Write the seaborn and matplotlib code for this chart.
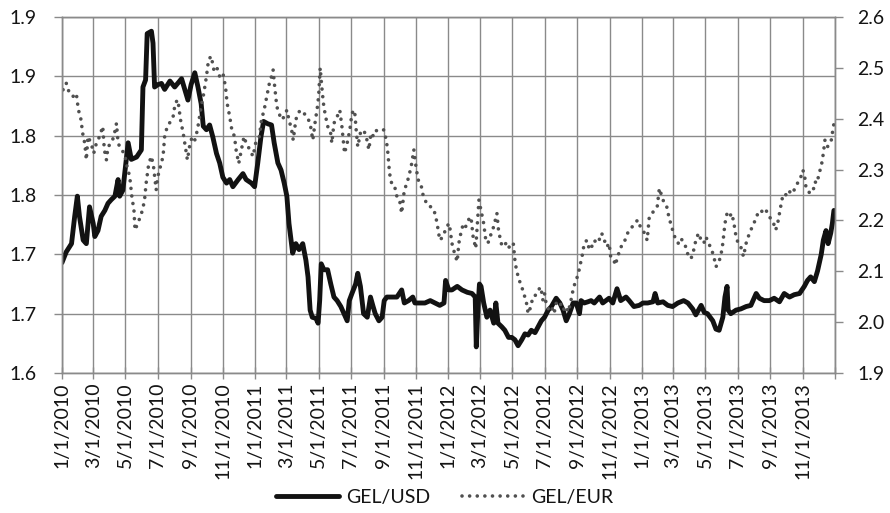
import matplotlib
matplotlib.use("Agg")
import matplotlib.pyplot as plt
import seaborn as sns
import pandas as pd
from matplotlib.lines import Line2D

# ---------------- data ----------------
usd_dates = [
    '2010-01-01', '2010-01-09', '2010-01-19', '2010-01-25', '2010-01-30', '2010-02-03', '2010-02-10',
    '2010-02-16', '2010-02-22', '2010-03-01', '2010-03-04', '2010-03-10', '2010-03-16', '2010-03-23',
    '2010-03-29', '2010-04-04', '2010-04-11', '2010-04-17', '2010-04-20', '2010-04-26', '2010-05-01',
    '2010-05-06', '2010-05-12', '2010-05-22', '2010-05-31', '2010-06-03', '2010-06-08', '2010-06-11',
    '2010-06-19', '2010-06-22', '2010-06-25', '2010-07-01', '2010-07-08', '2010-07-14', '2010-07-24',
    '2010-08-02', '2010-08-15', '2010-08-21', '2010-08-27', '2010-09-02', '2010-09-09', '2010-09-15',
    '2010-09-21', '2010-09-25', '2010-10-01', '2010-10-07', '2010-10-13', '2010-10-20', '2010-10-26',
    '2010-11-01', '2010-11-08', '2010-11-14', '2010-11-20', '2010-11-30', '2010-12-09', '2010-12-15',
    '2010-12-25',
    '2010-12-31', '2011-01-06', '2011-01-12', '2011-01-17', '2011-01-25', '2011-02-01', '2011-02-06',
    '2011-02-13', '2011-02-19', '2011-02-25', '2011-03-02', '2011-03-06', '2011-03-10', '2011-03-13',
    '2011-03-19', '2011-03-25', '2011-04-01', '2011-04-07', '2011-04-11', '2011-04-15', '2011-04-19',
    '2011-04-26', '2011-04-30', '2011-05-03', '2011-05-06', '2011-05-11', '2011-05-18', '2011-05-24',
    '2011-05-30', '2011-06-05', '2011-06-12', '2011-06-18', '2011-06-24', '2011-06-28', '2011-07-03',
    '2011-07-10', '2011-07-14', '2011-07-19', '2011-07-25', '2011-08-01', '2011-08-07', '2011-08-12',
    '2011-08-16', '2011-08-23', '2011-08-29', '2011-09-02', '2011-09-07', '2011-09-17', '2011-09-26',
    '2011-10-05', '2011-10-10', '2011-10-18', '2011-10-26', '2011-10-30', '2011-11-09', '2011-11-18',
    '2011-11-28', '2011-12-07', '2011-12-16', '2011-12-24', '2011-12-27',
    '2012-01-02', '2012-01-08', '2012-01-18', '2012-01-27', '2012-02-06', '2012-02-15', '2012-02-21',
    '2012-02-23', '2012-02-26', '2012-02-29', '2012-03-03', '2012-03-08', '2012-03-14', '2012-03-20',
    '2012-03-27', '2012-03-31', '2012-04-04', '2012-04-11', '2012-04-17', '2012-04-24', '2012-04-30',
    '2012-05-06', '2012-05-12', '2012-05-19', '2012-05-25', '2012-05-31', '2012-06-06', '2012-06-13',
    '2012-06-19', '2012-06-25', '2012-07-01', '2012-07-08', '2012-07-14', '2012-07-23', '2012-07-30',
    '2012-08-05', '2012-08-11', '2012-08-17', '2012-08-24', '2012-08-30', '2012-09-05', '2012-09-08',
    '2012-09-14', '2012-09-21', '2012-09-27', '2012-10-03', '2012-10-13', '2012-10-19', '2012-10-25',
    '2012-10-31', '2012-11-07', '2012-11-15', '2012-11-22', '2012-12-02', '2012-12-08', '2012-12-17',
    '2012-12-27',
    '2013-01-03', '2013-01-12', '2013-01-22', '2013-01-26', '2013-01-31', '2013-02-10', '2013-02-19',
    '2013-02-28', '2013-03-10', '2013-03-21', '2013-03-29', '2013-04-07', '2013-04-13', '2013-04-23',
    '2013-04-29', '2013-05-05', '2013-05-15', '2013-05-21', '2013-05-27', '2013-06-03', '2013-06-07',
    '2013-06-11', '2013-06-13', '2013-06-18', '2013-06-28', '2013-07-07', '2013-07-17', '2013-07-26',
    '2013-08-05', '2013-08-11', '2013-08-20', '2013-08-30', '2013-09-08', '2013-09-18', '2013-09-27',
    '2013-10-07', '2013-10-16', '2013-10-26', '2013-11-04', '2013-11-10', '2013-11-16', '2013-11-23',
    '2013-11-29', '2013-12-06', '2013-12-10', '2013-12-15', '2013-12-19', '2013-12-24', '2013-12-27',
    '2013-12-30',
]
usd_values = [
    1.693, 1.702, 1.709, 1.732, 1.749, 1.732, 1.712,
    1.709, 1.740, 1.726, 1.715, 1.720, 1.732, 1.737,
    1.743, 1.746, 1.749, 1.763, 1.749, 1.754, 1.774,
    1.794, 1.780, 1.782, 1.788, 1.841, 1.847, 1.886,
    1.888, 1.878, 1.841, 1.843, 1.844, 1.839, 1.846,
    1.841, 1.848, 1.839, 1.830, 1.843, 1.853, 1.841,
    1.827, 1.808, 1.805, 1.809, 1.799, 1.785, 1.777,
    1.765, 1.760, 1.763, 1.757, 1.763, 1.768, 1.763,
    1.760,
    1.757, 1.777, 1.799, 1.812, 1.810, 1.809, 1.794,
    1.777, 1.771, 1.760, 1.749, 1.726, 1.712, 1.701,
    1.709, 1.704, 1.709, 1.695, 1.681, 1.653, 1.647,
    1.646, 1.642, 1.661, 1.692, 1.687, 1.687, 1.675,
    1.664, 1.661, 1.656, 1.650, 1.644, 1.661, 1.667,
    1.675, 1.684, 1.673, 1.650, 1.647, 1.664, 1.656,
    1.650, 1.644, 1.647, 1.661, 1.664, 1.664, 1.664,
    1.670, 1.659, 1.661, 1.664, 1.659, 1.659, 1.659,
    1.661, 1.659, 1.657, 1.659, 1.678,
    1.670, 1.670, 1.673, 1.670, 1.668, 1.667, 1.664,
    1.622, 1.653, 1.675, 1.673, 1.659, 1.647, 1.653,
    1.642, 1.659, 1.642, 1.639, 1.636, 1.630, 1.630,
    1.628, 1.623, 1.628, 1.633, 1.632, 1.636, 1.634,
    1.639, 1.644, 1.647, 1.653, 1.656, 1.663, 1.659,
    1.653, 1.644, 1.650, 1.659, 1.659, 1.650, 1.661,
    1.659, 1.660, 1.661, 1.659, 1.664, 1.659, 1.661,
    1.663, 1.659, 1.671, 1.661, 1.664, 1.661, 1.656,
    1.657,
    1.659, 1.659, 1.660, 1.667, 1.659, 1.660, 1.657,
    1.656, 1.659, 1.661, 1.659, 1.654, 1.649, 1.657,
    1.651, 1.650, 1.644, 1.637, 1.636, 1.647, 1.664,
    1.673, 1.653, 1.650, 1.653, 1.654, 1.656, 1.657,
    1.667, 1.663, 1.661, 1.661, 1.663, 1.660, 1.667,
    1.664, 1.666, 1.667, 1.673, 1.678, 1.681, 1.677,
    1.686, 1.700, 1.712, 1.720, 1.709, 1.718, 1.726,
    1.737,
]

eur_dates = [
    '2010-01-03', '2010-01-09', '2010-01-15', '2010-01-22', '2010-01-28', '2010-02-01', '2010-02-05',
    '2010-02-10', '2010-02-13', '2010-02-16', '2010-02-19', '2010-02-25', '2010-03-02', '2010-03-07',
    '2010-03-13', '2010-03-19', '2010-03-22', '2010-03-26', '2010-03-29', '2010-04-04', '2010-04-09',
    '2010-04-14', '2010-04-17', '2010-04-23', '2010-04-29', '2010-05-04', '2010-05-09', '2010-05-13',
    '2010-05-17', '2010-05-19', '2010-05-24', '2010-05-29', '2010-06-02', '2010-06-06', '2010-06-09',
    '2010-06-14', '2010-06-19', '2010-06-23', '2010-06-28', '2010-07-01', '2010-07-06', '2010-07-11',
    '2010-07-14', '2010-07-19', '2010-07-23', '2010-07-30', '2010-08-03', '2010-08-08', '2010-08-13',
    '2010-08-18', '2010-08-22', '2010-08-26', '2010-08-30', '2010-09-04', '2010-09-09', '2010-09-14',
    '2010-09-18', '2010-09-21', '2010-09-26', '2010-10-01', '2010-10-05', '2010-10-10', '2010-10-15',
    '2010-10-20', '2010-10-26', '2010-11-01', '2010-11-06', '2010-11-09', '2010-11-14', '2010-11-18',
    '2010-11-23', '2010-11-26', '2010-12-01', '2010-12-06', '2010-12-11', '2010-12-15', '2010-12-22',
    '2010-12-28',
    '2011-01-02', '2011-01-09', '2011-01-13', '2011-01-18', '2011-01-23', '2011-01-28', '2011-02-01',
    '2011-02-04', '2011-02-07', '2011-02-11', '2011-02-15', '2011-02-20', '2011-02-25', '2011-03-02',
    '2011-03-06', '2011-03-11', '2011-03-14', '2011-03-19', '2011-03-23', '2011-03-28', '2011-04-03',
    '2011-04-09', '2011-04-15', '2011-04-20', '2011-04-25', '2011-04-28', '2011-05-01', '2011-05-04',
    '2011-05-07', '2011-05-10', '2011-05-13', '2011-05-18', '2011-05-23', '2011-05-26', '2011-05-30',
    '2011-06-05', '2011-06-10', '2011-06-14', '2011-06-19', '2011-06-24', '2011-06-29', '2011-07-03',
    '2011-07-08', '2011-07-11', '2011-07-14', '2011-07-19', '2011-07-25', '2011-07-30', '2011-08-04',
    '2011-08-08', '2011-08-13', '2011-08-19', '2011-08-26', '2011-09-01', '2011-09-06', '2011-09-09',
    '2011-09-12', '2011-09-16', '2011-09-21', '2011-09-26', '2011-10-01', '2011-10-05', '2011-10-10',
    '2011-10-15', '2011-10-20', '2011-10-24', '2011-10-28', '2011-11-01', '2011-11-05', '2011-11-10',
    '2011-11-15', '2011-11-21', '2011-11-26', '2011-11-30', '2011-12-07', '2011-12-11', '2011-12-16',
    '2011-12-22', '2011-12-29',
    '2012-01-03', '2012-01-08', '2012-01-13', '2012-01-18', '2012-01-21', '2012-01-26', '2012-01-30',
    '2012-02-03', '2012-02-08', '2012-02-13', '2012-02-17', '2012-02-22', '2012-02-25', '2012-02-28',
    '2012-03-03', '2012-03-08', '2012-03-12', '2012-03-16', '2012-03-20', '2012-03-25', '2012-03-30',
    '2012-04-02', '2012-04-05', '2012-04-10', '2012-04-14', '2012-04-19', '2012-04-24', '2012-04-28',
    '2012-05-03', '2012-05-06', '2012-05-09', '2012-05-14', '2012-05-19', '2012-05-23', '2012-05-28',
    '2012-05-31', '2012-06-05', '2012-06-09', '2012-06-14', '2012-06-19', '2012-06-24', '2012-06-28',
    '2012-07-01', '2012-07-04', '2012-07-09', '2012-07-14', '2012-07-19', '2012-07-23', '2012-07-28',
    '2012-08-02', '2012-08-07', '2012-08-11', '2012-08-15', '2012-08-20', '2012-08-25', '2012-08-30',
    '2012-09-03', '2012-09-07', '2012-09-11', '2012-09-14', '2012-09-19', '2012-09-24', '2012-09-28',
    '2012-10-03', '2012-10-08', '2012-10-12', '2012-10-17', '2012-10-22', '2012-10-27', '2012-10-31',
    '2012-11-03', '2012-11-08', '2012-11-12', '2012-11-16', '2012-11-21', '2012-11-25', '2012-11-30',
    '2012-12-05', '2012-12-10', '2012-12-14', '2012-12-19', '2012-12-24', '2012-12-29',
    '2013-01-06', '2013-01-11', '2013-01-15', '2013-01-20', '2013-01-25', '2013-01-30', '2013-02-03',
    '2013-02-07', '2013-02-12', '2013-02-17', '2013-02-21', '2013-02-26', '2013-03-02', '2013-03-06',
    '2013-03-11', '2013-03-16', '2013-03-21', '2013-03-25', '2013-03-30', '2013-04-04', '2013-04-09',
    '2013-04-13', '2013-04-18', '2013-04-23', '2013-04-28', '2013-05-02', '2013-05-07', '2013-05-12',
    '2013-05-17', '2013-05-21', '2013-05-25', '2013-05-30', '2013-06-03', '2013-06-07', '2013-06-11',
    '2013-06-15', '2013-06-20', '2013-06-24', '2013-06-28', '2013-07-02', '2013-07-07', '2013-07-12',
    '2013-07-17', '2013-07-21', '2013-07-26', '2013-07-31', '2013-08-04', '2013-08-09', '2013-08-14',
    '2013-08-19', '2013-08-23', '2013-08-28', '2013-09-02', '2013-09-07', '2013-09-11', '2013-09-16',
    '2013-09-19', '2013-09-24', '2013-09-28', '2013-10-03', '2013-10-08', '2013-10-13', '2013-10-17',
    '2013-10-22', '2013-10-27', '2013-11-01', '2013-11-04', '2013-11-07', '2013-11-11', '2013-11-16',
    '2013-11-21', '2013-11-24', '2013-11-28', '2013-12-02', '2013-12-06', '2013-12-10', '2013-12-13',
    '2013-12-18', '2013-12-22', '2013-12-25', '2013-12-29', '2013-12-31',
]
eur_values = [
    2.457, 2.470, 2.450, 2.444, 2.450, 2.417, 2.404,
    2.365, 2.352, 2.319, 2.365, 2.352, 2.332, 2.352,
    2.365, 2.385, 2.339, 2.319, 2.345, 2.352, 2.365,
    2.391, 2.352, 2.339, 2.332, 2.306, 2.286, 2.247,
    2.220, 2.181, 2.194, 2.207, 2.220, 2.240, 2.273,
    2.312, 2.326, 2.306, 2.260, 2.286, 2.306, 2.326,
    2.365, 2.385, 2.391, 2.404, 2.431, 2.437, 2.398,
    2.372, 2.345, 2.319, 2.345, 2.365, 2.358, 2.378,
    2.404, 2.424, 2.450, 2.483, 2.516, 2.523, 2.496,
    2.503, 2.483, 2.490, 2.463, 2.431, 2.404, 2.378,
    2.365, 2.339, 2.312, 2.339, 2.365, 2.352, 2.339,
    2.326,
    2.352, 2.365, 2.398, 2.417, 2.444, 2.470, 2.483,
    2.496, 2.463, 2.424, 2.411, 2.398, 2.404, 2.417,
    2.398, 2.378, 2.358, 2.398, 2.411, 2.417, 2.411,
    2.404, 2.391, 2.358, 2.398, 2.417, 2.444, 2.500,
    2.463, 2.431, 2.411, 2.385, 2.378, 2.352, 2.391,
    2.404, 2.417, 2.385, 2.332, 2.352, 2.378, 2.411,
    2.417, 2.378, 2.345, 2.372, 2.378, 2.365, 2.339,
    2.372, 2.365, 2.378, 2.378, 2.378, 2.358, 2.332,
    2.293, 2.273, 2.270, 2.247, 2.240, 2.214, 2.260,
    2.273, 2.293, 2.312, 2.339, 2.306, 2.280, 2.273,
    2.247, 2.234, 2.227, 2.227, 2.214, 2.194, 2.161,
    2.168, 2.188,
    2.194, 2.155, 2.135, 2.119, 2.155, 2.181, 2.194,
    2.188, 2.201, 2.207, 2.168, 2.145, 2.194, 2.240,
    2.220, 2.194, 2.161, 2.155, 2.168, 2.181, 2.201,
    2.214, 2.181, 2.155, 2.148, 2.155, 2.145, 2.155,
    2.155, 2.122, 2.102, 2.083, 2.069, 2.056, 2.037,
    2.017, 2.030, 2.050, 2.053, 2.063, 2.069, 2.043,
    2.056, 2.037, 2.024, 2.030, 2.017, 2.037, 2.030,
    2.037, 2.024, 2.030, 2.020, 2.043, 2.069, 2.083,
    2.096, 2.115, 2.135, 2.155, 2.161, 2.142, 2.148,
    2.161, 2.155, 2.161, 2.175, 2.161, 2.148, 2.155,
    2.129, 2.125, 2.112, 2.129, 2.142, 2.155, 2.161,
    2.175, 2.181, 2.188, 2.194, 2.201, 2.188,
    2.175, 2.161, 2.207, 2.214, 2.220, 2.227, 2.263,
    2.250, 2.234, 2.227, 2.207, 2.188, 2.175, 2.161,
    2.155, 2.165, 2.155, 2.148, 2.129, 2.125, 2.142,
    2.161, 2.175, 2.161, 2.155, 2.168, 2.155, 2.145,
    2.129, 2.109, 2.115, 2.129, 2.155, 2.194, 2.214,
    2.207, 2.214, 2.194, 2.168, 2.155, 2.148, 2.129,
    2.155, 2.168, 2.181, 2.194, 2.201, 2.217, 2.220,
    2.214, 2.220, 2.214, 2.201, 2.194, 2.181, 2.201,
    2.220, 2.247, 2.253, 2.247, 2.257, 2.253, 2.263,
    2.273, 2.280, 2.299, 2.293, 2.266, 2.257, 2.253,
    2.260, 2.276, 2.273, 2.293, 2.306, 2.332, 2.358,
    2.345, 2.355, 2.358, 2.385, 2.395,
]

x_tick_dates = pd.date_range('2010-01-01', '2014-01-01', freq='2MS')
x_tick_labels = ['1/1/2010', '3/1/2010', '5/1/2010', '7/1/2010', '9/1/2010', '11/1/2010',
                 '1/1/2011', '3/1/2011', '5/1/2011', '7/1/2011', '9/1/2011', '11/1/2011',
                 '1/1/2012', '3/1/2012', '5/1/2012', '7/1/2012', '9/1/2012', '11/1/2012',
                 '1/1/2013', '3/1/2013', '5/1/2013', '7/1/2013', '9/1/2013', '11/1/2013', '']
left_ticks = [1.60, 1.65, 1.70, 1.75, 1.80, 1.85, 1.90]
left_labels = ['1.6', '1.7', '1.7', '1.8', '1.8', '1.9', '1.9']
right_ticks = [1.9, 2.0, 2.1, 2.2, 2.3, 2.4, 2.5, 2.6]
right_labels = ['1.9', '2.0', '2.1', '2.2', '2.3', '2.4', '2.5', '2.6']
series_names = ['GEL/USD', 'GEL/EUR']

# ---------------- plot ----------------
sns.set_style('white')
plt.rcParams['font.family'] = ['Lato', 'DejaVu Sans']

GRID = '#8a8a8a'
TXT = '#141414'
USD_C = '#121212'
EUR_C = '#505050'
DOT = (0, (0.01, 2.1))

usd = pd.DataFrame({'date': pd.to_datetime(usd_dates), 'rate': usd_values})
eur = pd.DataFrame({'date': pd.to_datetime(eur_dates), 'rate': eur_values})

fig = plt.figure(figsize=(8.9, 5.13), dpi=100)
ax = fig.add_axes([62 / 890, 1 - 373 / 513, (835 - 62) / 890, (373 - 17) / 513])
sns.lineplot(data=usd, x='date', y='rate', ax=ax, color=USD_C, linewidth=3.5, legend=False)
ax.lines[0].set_solid_joinstyle('round')

ax2 = ax.twinx()
sns.lineplot(data=eur, x='date', y='rate', ax=ax2, color=EUR_C, linewidth=2.6, legend=False)
ax2.lines[0].set_linestyle(DOT)
ax2.lines[0].set_dash_capstyle('round')

ax.set_xlim(pd.Timestamp('2010-01-01'), pd.Timestamp('2014-01-01'))
ax.set_ylim(1.6, 1.9)
ax2.set_ylim(1.9, 2.6)
ax.set_xticks(x_tick_dates)
ax.set_xticklabels(x_tick_labels, rotation=90)
ax.set_yticks(left_ticks)
ax.set_yticklabels(left_labels)
ax2.set_yticks(right_ticks)
ax2.set_yticklabels(right_labels)
ax.set_xlabel('')
ax.set_ylabel('')
ax2.set_ylabel('')

ax.grid(True, color=GRID, linewidth=1.0)
ax2.grid(False)
for a in (ax, ax2):
    for s in a.spines.values():
        s.set_color(GRID)
        s.set_linewidth(1.0)

ax.tick_params(axis='y', which='both', direction='out', length=6, width=1.0, color=GRID,
               pad=12, labelsize=14, labelcolor=TXT, left=True, right=False)
ax.tick_params(axis='x', which='both', direction='inout', length=8, width=1.0, color=GRID,
               pad=3, labelsize=14, labelcolor=TXT, bottom=True)
ax2.tick_params(axis='y', which='both', direction='out', length=6, width=1.0, color=GRID,
                pad=10, labelsize=14, labelcolor=TXT, right=True, left=False)

handles = [Line2D([0], [0], color=USD_C, linewidth=3.5),
           Line2D([0], [0], color=EUR_C, linewidth=2.6, linestyle=DOT, dash_capstyle='round')]
fig.legend(handles, series_names, loc='center', bbox_to_anchor=(0.5, 1 - 497 / 513), ncol=2,
           frameon=False, fontsize=14, handlelength=3.2, handletextpad=0.4, columnspacing=1.6,
           labelcolor=TXT)

fig.savefig('out.png', dpi=100)
